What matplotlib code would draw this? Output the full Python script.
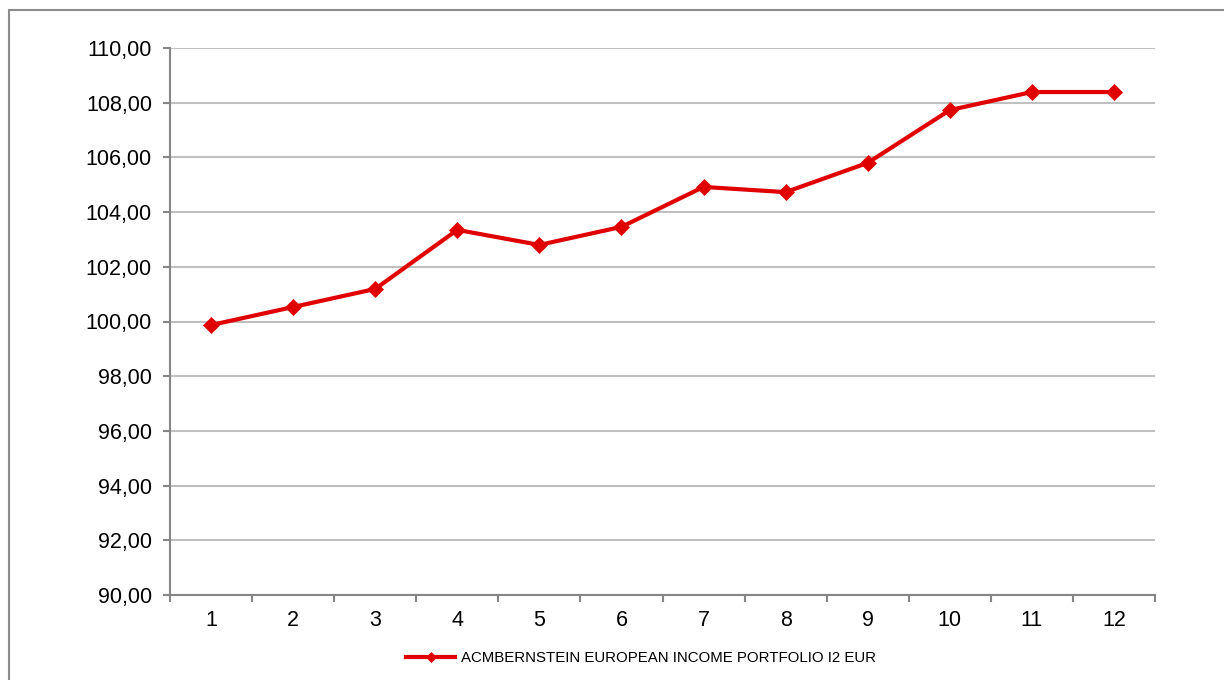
import matplotlib
matplotlib.use("Agg")
import matplotlib.pyplot as plt
from matplotlib.patches import Rectangle

# ── Data ─────────────────────────────────────────────────────────────────────
months = [1, 2, 3, 4, 5, 6, 7, 8, 9, 10, 11, 12]
values = [99.87, 100.53, 101.19, 103.35, 102.80, 103.46,
          104.92, 104.73, 105.80, 107.73, 108.39, 108.39]
y_ticks = [90, 92, 94, 96, 98, 100, 102, 104, 106, 108, 110]
series_name = "ACMBERNSTEIN EUROPEAN INCOME PORTFOLIO I2 EUR"

RED = "#E00000"
AXIS = "#868686"
GRID = "#C0C0C0"

plt.rcParams.update({
    "font.family": ["Liberation Sans", "DejaVu Sans"],
    "font.size": 15.5,
})

W, H = 1224, 680
fig = plt.figure(figsize=(W / 100, H / 100), dpi=100)

# outer chart frame (clipped on the right and bottom like the source)
fig.patches.append(Rectangle((9 / W, 0 - 0.02), 1.1, 1 - 10 / H + 0.02,
                             transform=fig.transFigure, fill=False,
                             edgecolor="#8c8c8c", linewidth=1.5))

ax = fig.add_axes([170 / W, 1 - 595 / H, (1155 - 170) / W, (595 - 48) / H])

ax.plot(months, values, color=RED, linewidth=3, marker="D", markersize=8.5,
        markeredgewidth=0.5, markeredgecolor=RED, label=series_name,
        solid_joinstyle="round", zorder=3)

ax.set_xlim(0.5, 12.5)
ax.set_ylim(90, 110)
ax.set_yticks(y_ticks)
ax.set_yticklabels([f"{v:.2f}".replace(".", ",") for v in y_ticks])
ax.set_xticks(months)
ax.set_xticklabels([str(m) for m in months])
ax.set_xticks([m + 0.5 for m in [0] + months], minor=True)
ax.tick_params(axis="x", which="major", length=0, pad=11)
ax.tick_params(axis="x", which="minor", length=5, width=1.5, color=AXIS,
               direction="out")
ax.tick_params(axis="y", length=5, width=1.5, color=AXIS, pad=8)

ax.grid(True, axis="y", color=GRID, linewidth=1.5, zorder=0)
for side in ["top", "right"]:
    ax.spines[side].set_visible(False)
for side in ["left", "bottom"]:
    ax.spines[side].set_color(AXIS)
    ax.spines[side].set_linewidth(1.5)

leg = fig.legend(loc="center", bbox_to_anchor=(641 / W, 1 - 658 / H),
                 frameon=False, fontsize=10.8, handlelength=3.3,
                 handletextpad=0.4, markerscale=0.6)
for h in leg.get_lines():
    h.set_linewidth(3)

fig.savefig("out.png", dpi=100)
